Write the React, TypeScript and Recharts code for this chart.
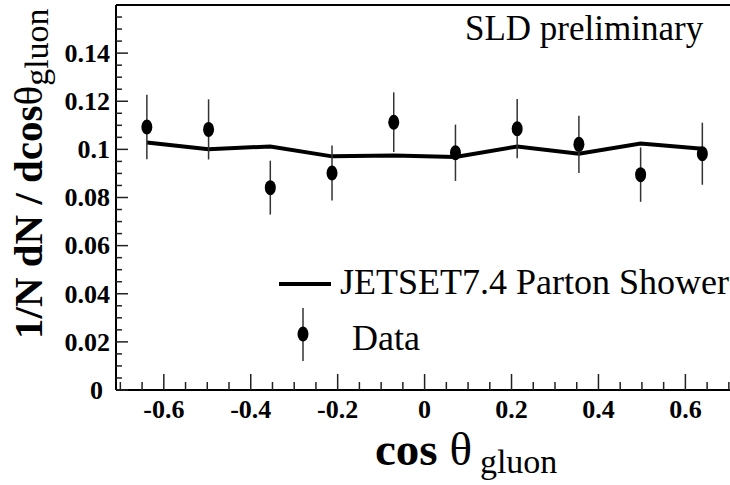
import React from 'react';
import { ComposedChart, Line, Scatter, ErrorBar, XAxis, YAxis, ReferenceLine, Legend } from 'recharts';

// bin centres of cos(theta_gluon)
const binCenters = [-0.639, -0.497, -0.355, -0.213, -0.071, 0.071, 0.213, 0.355, 0.497, 0.639];
// SLD data
const dataValues = [0.1093, 0.1083, 0.0841, 0.0902, 0.1113, 0.0986, 0.1086, 0.1021, 0.0895, 0.0982];
const dataErrors = [0.0134, 0.0125, 0.0112, 0.0114, 0.0124, 0.0117, 0.0123, 0.0119, 0.0113, 0.0129];
// JETSET 7.4 parton shower prediction
const jetsetValues = [0.1029, 0.1001, 0.1012, 0.0971, 0.0975, 0.0968, 0.1012, 0.0982, 0.1024, 0.1003];

const xTicks = [-0.7, -0.65, -0.6, -0.55, -0.5, -0.45, -0.4, -0.35, -0.3, -0.25, -0.2, -0.15, -0.1, -0.05, 0,
  0.05, 0.1, 0.15, 0.2, 0.25, 0.3, 0.35, 0.4, 0.45, 0.5, 0.55, 0.6, 0.65, 0.7];
const xLabeled = [-0.6, -0.4, -0.2, 0, 0.2, 0.4, 0.6];
const yTicks = [0, 0.005, 0.01, 0.015, 0.02, 0.025, 0.03, 0.035, 0.04, 0.045, 0.05, 0.055, 0.06, 0.065, 0.07,
  0.075, 0.08, 0.085, 0.09, 0.095, 0.1, 0.105, 0.11, 0.115, 0.12, 0.125, 0.13, 0.135, 0.14, 0.145, 0.15, 0.155];
const yLabeled = [0, 0.02, 0.04, 0.06, 0.08, 0.1, 0.12, 0.14];

const rows = binCenters.map((x, i) => ({
  x,
  data: dataValues[i],
  err: dataErrors[i],
  mc: jetsetValues[i],
}));

const FONT = '"Liberation Serif", "Times New Roman", serif';
const Y_MARGIN = 6;
const X_MARGIN = 0;

const isIn = (arr: number[], v: number) => arr.some((t) => Math.abs(t - v) < 1e-9);

const YTick = (props: any) => {
  const { x, y, payload } = props;
  const v = payload.value;
  const ax = x + Y_MARGIN;
  const major = isIn(yLabeled, v);
  return (
    <g>
      <line x1={ax} x2={ax + (major ? 12 : 6)} y1={y} y2={y} stroke="#222" strokeWidth={1.5} />
      {major && (
        <text x={v === 0 ? x - 7 : x} y={y} dy="0.34em" textAnchor="end" fontFamily={FONT} fontWeight="bold" fontSize={26} fill="#000">
          {String(v)}
        </text>
      )}
    </g>
  );
};

const XTick = (props: any) => {
  const { x, y, payload } = props;
  const v = payload.value;
  const ay = y - X_MARGIN;
  const major = isIn(xLabeled, v);
  return (
    <g>
      <line x1={x} x2={x} y1={ay} y2={ay - (major ? 16 : 8)} stroke="#222" strokeWidth={1.5} />
      {major && (
        <text x={x} y={ay + 28} textAnchor="middle" fontFamily={FONT} fontWeight="bold" fontSize={26} fill="#000">
          {String(v)}
        </text>
      )}
    </g>
  );
};

const DataMarker = (p: any) => <ellipse cx={p.cx} cy={p.cy} rx={5.5} ry={7.5} fill="#000" />;

const renderLegend = () => (
  <svg width={460} height={110} style={{ overflow: 'visible' }}>
    <line x1={9} x2={61} y1={29} y2={29} stroke="#000" strokeWidth={4} />
    <text x={70} y={39} fontSize={36} fontFamily={FONT} fill="#000">JETSET7.4 Parton Shower</text>
    <line x1={33} x2={33} y1={53} y2={106} stroke="#333" strokeWidth={1.5} />
    <ellipse cx={33} cy={79} rx={5.5} ry={7.5} fill="#000" />
    <text x={82} y={95} fontSize={36} fontFamily={FONT} fill="#000">Data</text>
  </svg>
);

export default function App() {
  return (
    <div style={{ position: 'absolute', left: 0, top: 0, width: 730, height: 485, overflow: 'hidden', background: '#fff' }}>
      <ComposedChart width={740} height={485} data={rows} margin={{ top: 5, right: 6.8, bottom: 0, left: 0 }}>
        <XAxis
          dataKey="x"
          type="number"
          domain={[-0.71, 0.71]}
          ticks={xTicks}
          interval={0}
          tickSize={0}
          tickMargin={X_MARGIN}
          tick={<XTick />}
          axisLine={{ stroke: '#000', strokeWidth: 2 }}
          tickLine={false}
          height={95}
          allowDataOverflow
        />
        <YAxis
          type="number"
          domain={[0, 0.16]}
          ticks={yTicks}
          interval={0}
          tickSize={0}
          tickMargin={Y_MARGIN}
          tick={<YTick />}
          axisLine={{ stroke: '#000', strokeWidth: 2 }}
          tickLine={false}
          width={116}
          allowDataOverflow
        />
        <ReferenceLine y={0.16} stroke="#000" strokeWidth={2} ifOverflow="visible" />
        <Line
          dataKey="mc"
          type="linear"
          stroke="#000"
          strokeWidth={4}
          dot={false}
          isAnimationActive={false}
          legendType="none"
        />
        <Scatter dataKey="data" fill="#000" shape={DataMarker} isAnimationActive={false}>
          <ErrorBar dataKey="err" direction="y" width={0} stroke="#333" strokeWidth={1.5} />
        </Scatter>
        <Legend
          layout="vertical"
          align="center"
          verticalAlign="middle"
          content={renderLegend}
          wrapperStyle={{ left: 270, top: 255, width: 460, height: 110 }}
        />
      </ComposedChart>
      <svg width={730} height={485} style={{ position: 'absolute', left: 0, top: 0, pointerEvents: 'none' }}>
        <text x={465} y={40} fontSize={35} fontFamily={FONT} fill="#000">SLD preliminary</text>
        <text transform="rotate(-90)" x={-339} y={42} fontFamily={FONT} fill="#000">
          <tspan fontSize={41} fontWeight="bold">1/N dN / dcos</tspan>
          <tspan fontSize={41}>θ</tspan>
          <tspan fontSize={34} dy={6}>gluon</tspan>
        </text>
        <text x={375} y={465} fontFamily={FONT} fill="#000">
          <tspan fontSize={47} fontWeight="bold">cos </tspan>
          <tspan fontSize={47}>θ</tspan>
          <tspan fontSize={34} dx={8} dy={8}>gluon</tspan>
        </text>
      </svg>
    </div>
  );
}
